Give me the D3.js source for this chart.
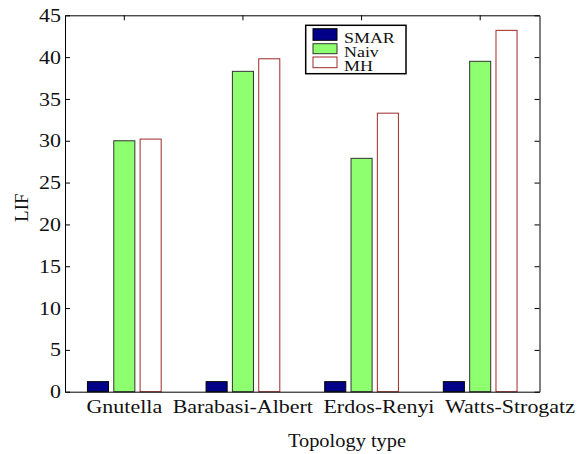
<!DOCTYPE html>
<html>
<head>
<meta charset="utf-8">
<script src="https://cdn.jsdelivr.net/npm/d3@7"></script>
<style>
  html, body { margin: 0; padding: 0; background: #fff; }
  svg { display: block; }
</style>
</head>
<body>
<svg id="chart" width="582" height="454"></svg>
<script>
// Grouped bar chart: LIF per topology type, three methods.

const categories = ["Gnutella", "Barabasi-Albert", "Erdos-Renyi", "Watts-Strogatz"];
const seriesNames = ["SMAR", "Naiv", "MH"];
const smarValues = [1.2, 1.2, 1.2, 1.2];
const naivValues = [30.0, 38.3, 27.9, 39.5];
const mhValues = [30.2, 39.8, 33.3, 43.2];
const yTicks = [0, 5, 10, 15, 20, 25, 30, 35, 40, 45];

const seriesStyle = {
  SMAR: { fill: "#000088", stroke: "#000000" },
  Naiv: { fill: "#8eff6e", stroke: "#333333" },
  MH:   { fill: "#ffffff", stroke: "#a02828" },
};

const FONT = '"Liberation Serif"';

const valuesBySeries = { SMAR: smarValues, Naiv: naivValues, MH: mhValues };
const rows = categories.map((c, i) => ({
  category: c,
  values: seriesNames.map(s => ({ series: s, value: valuesBySeries[s][i] })),
}));

const margin = { left: 65, right: 42.5, top: 15.3, bottom: 62.3 };
const W = 582, H = 454;
const innerW = W - margin.left - margin.right;
const innerH = H - margin.top - margin.bottom;

const svg = d3.select("#chart");

// reference text is wider than it is tall; measure one label to get the squeeze
const probe = svg.append("text").style("font-family", FONT).attr("font-size", 19).text("Gnutella");
const k = 75.7 / probe.node().getComputedTextLength();
probe.remove();
const stretch = `scale(${k},1)`;

const g = svg.append("g").attr("transform", `translate(${margin.left},${margin.top})`);

const x0 = d3.scaleBand().domain(categories).range([0, innerW]).padding(0);
const x1 = d3.scaleBand().domain(seriesNames).range([-39.5, 39.5])
  .paddingInner(0.2).paddingOuter(0.1);
const y = d3.scaleLinear().domain([0, 45]).range([innerH, 0]);

// bars
const groups = g.selectAll("g.group").data(rows).join("g")
  .attr("class", "group")
  .attr("transform", d => `translate(${x0(d.category) + x0.bandwidth() / 2},0)`);

groups.selectAll("rect").data(d => d.values).join("rect")
  .attr("x", d => x1(d.series))
  .attr("y", d => y(d.value))
  .attr("width", x1.bandwidth())
  .attr("height", d => y(0) - y(d.value))
  .attr("fill", d => seriesStyle[d.series].fill)
  .attr("stroke", d => seriesStyle[d.series].stroke)
  .attr("stroke-width", 1);

// axes: closed box, inward ticks left/right/top, none on bottom
g.append("g")
  .call(d3.axisLeft(y).tickValues(yTicks).tickSizeInner(-5).tickSizeOuter(0).tickPadding(3.5));

g.append("g").attr("transform", `translate(${innerW},0)`)
  .call(d3.axisRight(y).tickValues(yTicks).tickSizeInner(-5).tickSizeOuter(0).tickFormat(""));

g.append("g")
  .call(d3.axisTop(x0).tickSizeInner(-5).tickSizeOuter(0).tickFormat(""));

const bottomAxis = g.append("g").attr("transform", `translate(0,${innerH})`)
  .call(d3.axisBottom(x0).tickSize(0).tickPadding(8));

g.selectAll(".domain").attr("stroke", "#000").attr("stroke-width", 1);
g.selectAll(".tick line").attr("stroke", "#000");
g.selectAll(".tick text")
  .attr("fill", "#111")
  .attr("font-size", 19)
  .style("font-family", FONT)
  .attr("transform", stretch);

// category names in the reference run on as one line (first one centred,
// the rest follow with a fixed gap), so flow them left to right
const gap = 10.5;
let cursor = null;
bottomAxis.selectAll(".tick text").each(function (d) {
  const w = this.getComputedTextLength() * k;
  const center = x0(d) + x0.bandwidth() / 2;
  if (cursor === null) cursor = center - w / 2;
  d3.select(this)
    .attr("text-anchor", "start")
    .attr("x", (cursor - center) / k);
  cursor += w + gap;
});

// axis titles
svg.append("text")
  .attr("transform", "translate(28,207.7) rotate(-90)")
  .attr("text-anchor", "middle")
  .attr("font-size", 19)
  .style("font-family", FONT)
  .attr("fill", "#111")
  .text("LIF");

svg.append("text")
  .attr("transform", `translate(347,447) scale(${k * 0.98},1)`)
  .attr("text-anchor", "middle")
  .attr("font-size", 18)
  .style("font-family", FONT)
  .attr("fill", "#111")
  .text("Topology type");

// legend
const legendY = [28.7, 43.7, 57];
const legendH = [11.6, 10, 10.7];
const legendBase = [42.8, 56.6, 70.6];
const legend = svg.append("g");
legend.append("rect")
  .attr("x", 305.7).attr("y", 25.3).attr("width", 100.3).attr("height", 48.4)
  .attr("fill", "#fff").attr("stroke", "#000").attr("stroke-width", 1.5);

const items = legend.selectAll("g.item").data(seriesNames).join("g").attr("class", "item");
items.append("rect")
  .attr("x", 313).attr("y", (d, i) => legendY[i])
  .attr("width", 24).attr("height", (d, i) => legendH[i])
  .attr("fill", d => seriesStyle[d].fill)
  .attr("stroke", d => seriesStyle[d].stroke)
  .attr("stroke-width", 1);
items.append("text")
  .attr("transform", (d, i) => `translate(344,${legendBase[i]}) ${stretch}`)
  .attr("font-size", 15.5)
  .style("font-family", FONT)
  .attr("fill", "#111")
  .text(d => d);
</script>
</body>
</html>
